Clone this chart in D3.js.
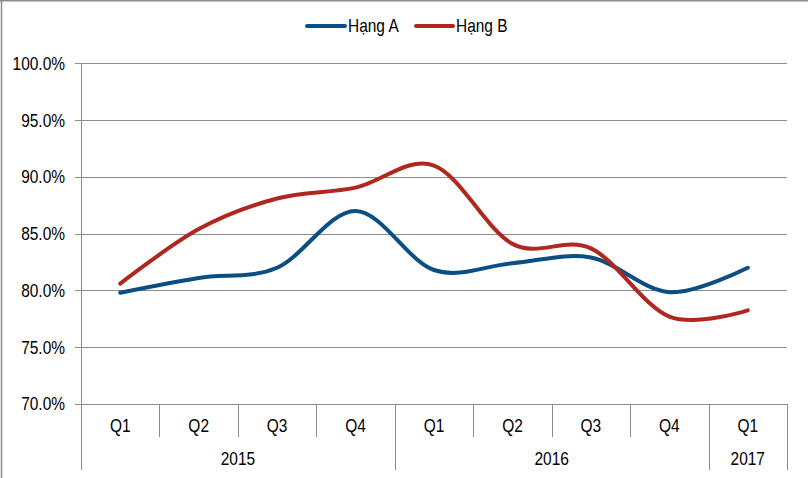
<!DOCTYPE html>
<html><head><meta charset="utf-8">
<script src="https://cdn.jsdelivr.net/npm/d3@7"></script>
<style>
html,body{margin:0;padding:0;background:#fff;}
svg text{font-family:"Liberation Sans Narrow","Arial Narrow","Liberation Sans",Arial,sans-serif;fill:#000;}
</style></head>
<body>
<svg id="chart" width="808" height="478"></svg>
<script>
const quarters = ["Q1","Q2","Q3","Q4","Q1","Q2","Q3","Q4","Q1"];
const years = [{label:"2015", start:0, end:4},{label:"2016", start:4, end:8},{label:"2017", start:8, end:9}];
const seriesNames = ["Hạng A","Hạng B"];
const hangA = [79.8, 81.1, 82.0, 87.0, 81.8, 82.4, 82.9, 79.85, 82.0];
const hangB = [80.6, 85.4, 88.1, 89.05, 91.0, 84.1, 83.7, 77.7, 78.25];
const yTicks = [70,75,80,85,90,95,100];
const colors = ["#0B4E83","#B0271F"];

const svg = d3.select("#chart");
const pLeft = 81, pRight = 787, pTop = 63.3, pBottom = 404;
const sx = 0.86;
const tr = (xx,yy)=>`translate(${xx},${yy}) scale(${sx},1)`;

const x = d3.scaleBand().domain(d3.range(quarters.length)).range([pLeft, pRight]).padding(0);
const y = d3.scaleLinear().domain([70,100]).range([pBottom, pTop]);
const gray = "#8c8c8c";

// outer border (top + left)
svg.append("line").attr("x1",0).attr("x2",808).attr("y1",0.75).attr("y2",0.75).attr("stroke",gray).attr("stroke-width",1.5);
svg.append("line").attr("x1",1.5).attr("x2",1.5).attr("y1",0).attr("y2",478).attr("stroke",gray).attr("stroke-width",1.5);

// gridlines
svg.append("g").selectAll("line").data(yTicks).join("line")
  .attr("x1", pLeft-6).attr("x2", pRight)
  .attr("y1", d=>Math.round(y(d))+0.5).attr("y2", d=>Math.round(y(d))+0.5)
  .attr("stroke", gray).attr("stroke-width",1);

// y labels
svg.append("g").selectAll("text").data(yTicks).join("text")
  .attr("transform", d=>tr(65, y(d))).attr("dy","0.36em")
  .attr("text-anchor","end").attr("font-size",18)
  .text(d=>d.toFixed(1)+"%");

// y axis line
svg.append("line").attr("x1",pLeft+0.5).attr("x2",pLeft+0.5).attr("y1",pTop).attr("y2",470).attr("stroke",gray);

// quarter dividers
const qDiv = d3.range(1, quarters.length).filter(i=>!years.some(yy=>yy.start===i));
svg.append("g").selectAll("line").data(qDiv).join("line")
  .attr("x1", i=>Math.round(x(i))+0.5).attr("x2", i=>Math.round(x(i))+0.5)
  .attr("y1", pBottom).attr("y2", 437).attr("stroke", gray);
// year dividers
const yDiv = years.map(yy=>yy.end);
svg.append("g").selectAll("line").data(yDiv).join("line")
  .attr("x1", i=>Math.round(i<quarters.length? x(i): pRight)+0.5).attr("x2", i=>Math.round(i<quarters.length? x(i): pRight)+0.5)
  .attr("y1", pBottom).attr("y2", 470).attr("stroke", gray);

// quarter labels
svg.append("g").selectAll("text").data(quarters).join("text")
  .attr("transform",(d,i)=>tr(x(i)+x.bandwidth()/2, 432))
  .attr("text-anchor","middle").attr("font-size",18).text(d=>d);
// year labels
svg.append("g").selectAll("text").data(years).join("text")
  .attr("transform", d=>{const a=x(d.start); const b=d.end<quarters.length?x(d.end):pRight; return tr((a+b)/2, 465);})
  .attr("text-anchor","middle").attr("font-size",18).text(d=>d.label);

// lines
const line = d3.line().x((d,i)=>x(i)+x.bandwidth()/2).y(d=>y(d)).curve(d3.curveCardinal.tension(0));
[hangA, hangB].forEach((s,k)=>{
  svg.append("path").datum(s).attr("d",line).attr("fill","none")
    .attr("stroke",colors[k]).attr("stroke-width",4).attr("stroke-linecap","round").attr("stroke-linejoin","round");
});

// legend
const leg = [{x1:307,x2:345,tx:348},{x1:416,x2:453,tx:456}];
leg.forEach((l,k)=>{
  svg.append("line").attr("x1",l.x1).attr("x2",l.x2).attr("y1",26).attr("y2",26)
    .attr("stroke",colors[k]).attr("stroke-width",4).attr("stroke-linecap","round");
  svg.append("text").attr("transform",tr(l.tx,26)).attr("dy","0.36em").attr("font-size",18).text(seriesNames[k]);
});
</script>
</body></html>
